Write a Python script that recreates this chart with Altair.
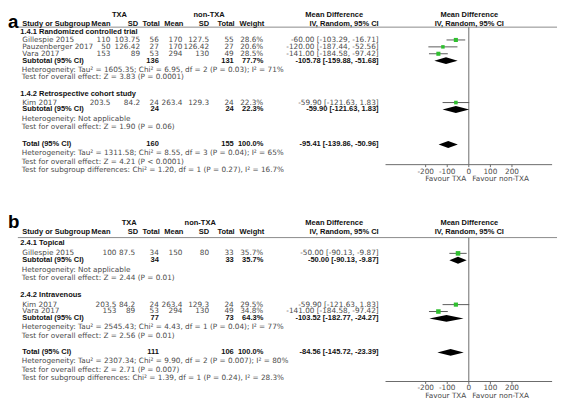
import altair as alt
import pandas as pd

# ---------------- data : panel a ----------------
A_GROUPS = ["1.4.1 Randomized controlled trial", "1.4.2 Retrospective cohort study"]
A_STUDY = ["Gillespie 2015", "Pauzenberger 2017", "Vara 2017", "Kim 2017"]
A_GROUP = [0, 0, 0, 1]
A_TXA_MEAN = ["110", "50", "153", "203.5"]
A_TXA_SD = ["103.75", "126.42", "89", "84.2"]
A_TXA_N = [56, 27, 53, 24]
A_CTL_MEAN = ["170", "170", "294", "263.4"]
A_CTL_SD = ["127.5", "126.42", "130", "129.3"]
A_CTL_N = [55, 27, 49, 24]
A_WEIGHT = [28.6, 20.6, 28.5, 22.3]
A_MD = [-60.00, -120.00, -141.00, -59.90]
A_LO = [-103.29, -187.44, -184.58, -121.63]
A_HI = [-16.71, -52.56, -97.42, 1.83]
A_SUB_TXA_N = [136, 24]
A_SUB_CTL_N = [131, 24]
A_SUB_WEIGHT = [77.7, 22.3]
A_SUB_MD = [-105.78, -59.90]
A_SUB_LO = [-159.88, -121.63]
A_SUB_HI = [-51.68, 1.83]
A_SUB_HET = ["Heterogeneity: Tau² = 1605.35; Chi² = 6.95, df = 2 (P = 0.03); I² = 71%",
             "Heterogeneity: Not applicable"]
A_SUB_TEST = ["Test for overall effect: Z = 3.83 (P = 0.0001)",
              "Test for overall effect: Z = 1.90 (P = 0.06)"]
A_TOT_N = [160, 155]
A_TOT_WEIGHT = 100.0
A_TOT_CI = [-95.41, -139.86, -50.96]
A_TOT_TEXT = ["Heterogeneity: Tau² = 1311.58; Chi² = 8.55, df = 3 (P = 0.04); I² = 65%",
              "Test for overall effect: Z = 4.21 (P < 0.0001)",
              "Test for subgroup differences: Chi² = 1.20, df = 1 (P = 0.27), I² = 16.7%"]

# ---------------- data : panel b ----------------
B_GROUPS = ["2.4.1 Topical", "2.4.2 Intravenous"]
B_STUDY = ["Gillespie 2015", "Kim 2017", "Vara 2017"]
B_GROUP = [0, 1, 1]
B_TXA_MEAN = ["100", "203.5", "153"]
B_TXA_SD = ["87.5", "84.2", "89"]
B_TXA_N = [34, 24, 53]
B_CTL_MEAN = ["150", "263.4", "294"]
B_CTL_SD = ["80", "129.3", "130"]
B_CTL_N = [33, 24, 49]
B_WEIGHT = [35.7, 29.5, 34.8]
B_MD = [-50.00, -59.90, -141.00]
B_LO = [-90.13, -121.63, -184.58]
B_HI = [-9.87, 1.83, -97.42]
B_SUB_TXA_N = [34, 77]
B_SUB_CTL_N = [33, 73]
B_SUB_WEIGHT = [35.7, 64.3]
B_SUB_MD = [-50.00, -103.52]
B_SUB_LO = [-90.13, -182.77]
B_SUB_HI = [-9.87, -24.27]
B_SUB_HET = ["Heterogeneity: Not applicable",
             "Heterogeneity: Tau² = 2545.43; Chi² = 4.43, df = 1 (P = 0.04); I² = 77%"]
B_SUB_TEST = ["Test for overall effect: Z = 2.44 (P = 0.01)",
              "Test for overall effect: Z = 2.56 (P = 0.01)"]
B_TOT_N = [111, 106]
B_TOT_WEIGHT = 100.0
B_TOT_CI = [-84.56, -145.72, -23.39]
B_TOT_TEXT = ["Heterogeneity: Tau² = 2307.34; Chi² = 9.90, df = 2 (P = 0.007); I² = 80%",
              "Test for overall effect: Z = 2.71 (P = 0.007)",
              "Test for subgroup differences: Chi² = 1.39, df = 1 (P = 0.24), I² = 28.3%"]

AXIS_TICKS = [-200, -100, 0, 100, 200]
AXIS_LIMIT = 386

PANELS = [
    dict(label="a", groups=A_GROUPS, study=A_STUDY, grp=A_GROUP, tm=A_TXA_MEAN, tsd=A_TXA_SD,
         tn=A_TXA_N, cm=A_CTL_MEAN, csd=A_CTL_SD, cn=A_CTL_N, w=A_WEIGHT, md=A_MD, lo=A_LO,
         hi=A_HI, stn=A_SUB_TXA_N, scn=A_SUB_CTL_N, sw=A_SUB_WEIGHT, smd=A_SUB_MD,
         slo=A_SUB_LO, shi=A_SUB_HI, shet=A_SUB_HET, stest=A_SUB_TEST, totn=A_TOT_N,
         totw=A_TOT_WEIGHT, totci=A_TOT_CI, tottext=A_TOT_TEXT),
    dict(label="b", groups=B_GROUPS, study=B_STUDY, grp=B_GROUP, tm=B_TXA_MEAN, tsd=B_TXA_SD,
         tn=B_TXA_N, cm=B_CTL_MEAN, csd=B_CTL_SD, cn=B_CTL_N, w=B_WEIGHT, md=B_MD, lo=B_LO,
         hi=B_HI, stn=B_SUB_TXA_N, scn=B_SUB_CTL_N, sw=B_SUB_WEIGHT, smd=B_SUB_MD,
         slo=B_SUB_LO, shi=B_SUB_HI, shet=B_SUB_HET, stest=B_SUB_TEST, totn=B_TOT_N,
         totw=B_TOT_WEIGHT, totci=B_TOT_CI, tottext=B_TOT_TEXT),
]

# ---------------- layout (page pixel coordinates) ----------------
OFF = 8
W, H = 567 - OFF, 411 - OFF
LAYOUT = [
    dict(lab=(8, 25.5), hdr1=12.5, hdr2=21, line=24.5, txa_c=121, ctl_c=212,
         cols=[112, 142, 161, 185, 212, 237, 267],
         hcols=[112, 140, 162, 186, 212, 238, 268],
         group_y=[29, 92], study_y=[37.5, 44.5, 51.5, 101], sub_y=[58.5, 108],
         het_y=[[67.5, 75.5], [117.5, 126]], tot_y=143.5, tot_het_y=[152.5, 161, 169.5],
         axis_y=164, tick_y=171, fav_y=179),
    dict(lab=(8, 228), hdr1=223, hdr2=232, line=238, txa_c=131, ctl_c=203,
         cols=[118, 137, 161, 185, 212, 237, 267],
         hcols=[112, 140, 162, 186, 212, 238, 268],
         group_y=[244, 296], study_y=[254, 306, 313], sub_y=[261, 320],
         het_y=[[271, 279.5], [329, 337.5]], tot_y=354.5, tot_het_y=[363.5, 372, 380.5],
         axis_y=384, tick_y=391, fav_y=399),
]
NAME_X, GROUP_X, TEXT_X = 22.5, 20.5, 22.0
CI_X, MDH_C, FOREST_C = 384, 339, 476
LINE_X = (18, 565)
FOREST_RANGE = (391, 560)
DIA_H = 3.5

C_DATA = "#4a4a4a"
C_BOLD = "#111111"
FONT = "DejaVu Sans"
FONT_B = "Liberation Sans"
FS = 7.4
FS_B = 7.6

def P(v):
    return v - OFF

texts, lines, zeros, axes, ticks, cis, squares, dias = [], [], [], [], [], [], [], []

def T(x, y, t, k="L", c=C_DATA):
    texts.append(dict(x=P(x), y=P(y), t=t, k=k, c=c))

def ci_text(m, l, h):
    return f"{m:.2f} [{l:.2f}, {h:.2f}]"

def diamond(pid, m, l, h, y):
    for xv, a, b in [(l, 0, 0), (m, -DIA_H, DIA_H), (h, 0, 0)]:
        dias.append(dict(id=pid, x=xv, y1=P(y) + a, y2=P(y) + b))

for pi, (d, L) in enumerate(zip(PANELS, LAYOUT)):
    T(L["lab"][0], L["lab"][1], d["label"], "LAB", "#000000")
    T(L["txa_c"], L["hdr1"], "TXA", "CB", C_BOLD)
    T(L["ctl_c"], L["hdr1"], "non-TXA", "CB", C_BOLD)
    T(MDH_C, L["hdr1"], "Mean Difference", "CB", C_BOLD)
    T(FOREST_C, L["hdr1"], "Mean Difference", "CB", C_BOLD)
    T(NAME_X, L["hdr2"], "Study or Subgroup", "LB", C_BOLD)
    for hx, ht in zip(L["hcols"], ["Mean", "SD", "Total", "Mean", "SD", "Total", "Weight"]):
        T(hx, L["hdr2"], ht, "RB", C_BOLD)
    T(CI_X, L["hdr2"], "IV, Random, 95% CI", "RB", C_BOLD)
    T(FOREST_C, L["hdr2"], "IV, Random, 95% CI", "CB", C_BOLD)
    lines.append(dict(x1=P(LINE_X[0]), x2=P(LINE_X[1]), y=P(L["line"])))
    zeros.append(dict(x=0, y1=P(L["line"]), y2=P(L["axis_y"])))
    axes.append(dict(a=-AXIS_LIMIT, b=AXIS_LIMIT, y=P(L["axis_y"])))
    for tv in AXIS_TICKS:
        ticks.append(dict(x=tv, y1=P(L["axis_y"]), y2=P(L["axis_y"]) + 2.5,
                          ty=P(L["tick_y"]), t=str(tv)))
    for g, gname in enumerate(d["groups"]):
        T(GROUP_X, L["group_y"][g], gname, "LB", C_BOLD)
        idx = [i for i, gg in enumerate(d["grp"]) if gg == g]
        for i in idx:
            y = L["study_y"][i]
            T(NAME_X, y, d["study"][i], "L")
            vals = [d["tm"][i], d["tsd"][i], str(d["tn"][i]), d["cm"][i], d["csd"][i],
                    str(d["cn"][i]), f"{d['w'][i]:.1f}%"]
            for cx, v in zip(L["cols"], vals):
                T(cx, y, v, "R")
            T(CI_X, y, ci_text(d["md"][i], d["lo"][i], d["hi"][i]), "R")
            cis.append(dict(lo=d["lo"][i], hi=d["hi"][i], y=P(y)))
            squares.append(dict(md=d["md"][i], w=d["w"][i], y=P(y)))
        sy = L["sub_y"][g]
        T(NAME_X, sy, "Subtotal (95% CI)", "LB", C_BOLD)
        T(L["cols"][2], sy, str(d["stn"][g]), "RB", C_BOLD)
        T(L["cols"][5], sy, str(d["scn"][g]), "RB", C_BOLD)
        T(L["cols"][6], sy, f"{d['sw'][g]:.1f}%", "RB", C_BOLD)
        T(CI_X, sy, ci_text(d["smd"][g], d["slo"][g], d["shi"][g]), "RB", C_BOLD)
        diamond(f"{pi}-s{g}", d["smd"][g], d["slo"][g], d["shi"][g], sy)
        T(TEXT_X, L["het_y"][g][0], d["shet"][g], "L")
        T(TEXT_X, L["het_y"][g][1], d["stest"][g], "L")
    ty = L["tot_y"]
    T(NAME_X, ty, "Total (95% CI)", "LB", C_BOLD)
    T(L["cols"][2], ty, str(d["totn"][0]), "RB", C_BOLD)
    T(L["cols"][5], ty, str(d["totn"][1]), "RB", C_BOLD)
    T(L["cols"][6], ty, f"{d['totw']:.1f}%", "RB", C_BOLD)
    T(CI_X, ty, ci_text(*d["totci"]), "RB", C_BOLD)
    diamond(f"{pi}-t", d["totci"][0], d["totci"][1], d["totci"][2], ty)
    for line_t, yy in zip(d["tottext"], L["tot_het_y"]):
        T(TEXT_X, yy, line_t, "L")
    T(FOREST_C - 3, L["fav_y"], "Favour TXA", "R")
    T(FOREST_C + 3, L["fav_y"], "Favour non-TXA", "L")

xs = alt.Scale(domain=[-AXIS_LIMIT, AXIS_LIMIT], range=[P(FOREST_RANGE[0]), P(FOREST_RANGE[1])],
               nice=False, zero=False)

df_t = pd.DataFrame(texts)
layers = []

layers.append(alt.Chart(pd.DataFrame(lines)).mark_rule(color="#8a8a8a", strokeWidth=1).encode(
    x=alt.X("x1:Q", scale=None, axis=None), x2="x2:Q", y=alt.Y("y:Q", scale=None, axis=None)))
layers.append(alt.Chart(pd.DataFrame(zeros)).mark_rule(color="#6a6a6a", strokeWidth=1).encode(
    x=alt.X("x:Q", scale=xs, axis=None), y=alt.Y("y1:Q", scale=None, axis=None), y2="y2:Q"))
layers.append(alt.Chart(pd.DataFrame(axes)).mark_rule(color="#6a6a6a", strokeWidth=1).encode(
    x=alt.X("a:Q", scale=xs, axis=None), x2="b:Q", y=alt.Y("y:Q", scale=None, axis=None)))
df_ticks = pd.DataFrame(ticks)
layers.append(alt.Chart(df_ticks).mark_rule(color="#6a6a6a", strokeWidth=1).encode(
    x=alt.X("x:Q", scale=xs, axis=None), y=alt.Y("y1:Q", scale=None, axis=None), y2="y2:Q"))
layers.append(alt.Chart(df_ticks).mark_text(font=FONT, fontSize=FS, color=C_DATA,
                                             baseline="middle", align="center").encode(
    x=alt.X("x:Q", scale=xs, axis=None), y=alt.Y("ty:Q", scale=None, axis=None), text="t:N"))
layers.append(alt.Chart(pd.DataFrame(cis)).mark_rule(color="#5a5a5a", strokeWidth=1).encode(
    x=alt.X("lo:Q", scale=xs, axis=None), x2="hi:Q", y=alt.Y("y:Q", scale=None, axis=None)))
layers.append(alt.Chart(pd.DataFrame(squares)).mark_square(color="#2fbf2f", opacity=1,
                                                            filled=True).encode(
    x=alt.X("md:Q", scale=xs, axis=None), y=alt.Y("y:Q", scale=None, axis=None),
    size=alt.Size("w:Q", scale=alt.Scale(domain=[0, 100], range=[0, 60]), legend=None)))
layers.append(alt.Chart(pd.DataFrame(dias)).mark_area(color="#000000", opacity=1).encode(
    x=alt.X("x:Q", scale=xs, axis=None), y=alt.Y("y1:Q", scale=None, axis=None), y2="y2:Q",
    detail="id:N"))

KINDS = {
    "L": dict(align="left", fontWeight="normal", fontSize=FS, font=FONT, baseline="middle"),
    "R": dict(align="right", fontWeight="normal", fontSize=FS, font=FONT, baseline="middle"),
    "LB": dict(align="left", fontWeight="bold", fontSize=FS_B, font=FONT_B, baseline="middle"),
    "RB": dict(align="right", fontWeight="bold", fontSize=FS_B, font=FONT_B, baseline="middle"),
    "CB": dict(align="center", fontWeight="bold", fontSize=FS_B, font=FONT_B, baseline="middle"),
    "LAB": dict(align="left", fontWeight="bold", fontSize=19, font="Liberation Sans",
                baseline="alphabetic"),
}
for k, props in KINDS.items():
    sub = df_t[df_t["k"] == k]
    layers.append(alt.Chart(sub).mark_text(**props).encode(
        x=alt.X("x:Q", scale=None, axis=None), y=alt.Y("y:Q", scale=None, axis=None),
        text="t:N", color=alt.Color("c:N", scale=None)))

chart = alt.layer(*layers).resolve_scale(x="independent").properties(
    width=W, height=H, padding=0, autosize=alt.AutoSizeParams(type="none")
).configure_view(stroke=None)

chart.save("out.html", embed_options={"renderer": "svg", "actions": False})
